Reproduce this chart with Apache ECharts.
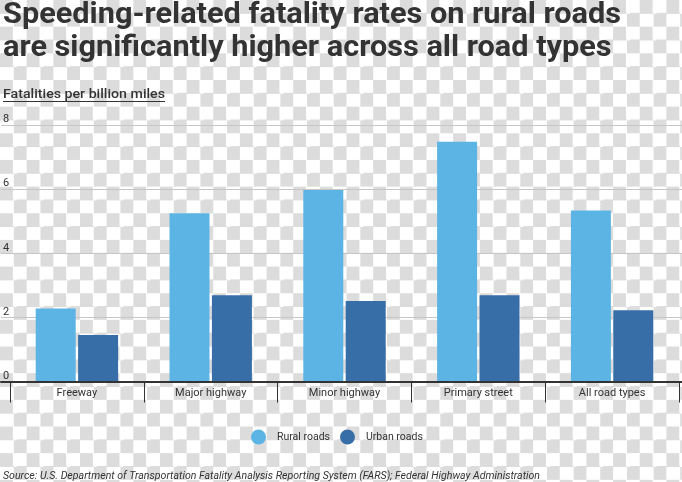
<!DOCTYPE html>
<html>
<head>
<meta charset="utf-8">
<script src="https://cdn.jsdelivr.net/npm/echarts@6/dist/echarts.min.js"></script>
<style>
  html, body { margin: 0; padding: 0; }
  body {
    width: 682px; height: 482px; overflow: hidden;
    background: repeating-conic-gradient(#fff 0 25%, #dcdcdc 0 50%) 0 0 / 26.667px 26.667px;
  }
  #chart { width: 682px; height: 482px; }
</style>
</head>
<body>
<div id="chart"></div>
<script>
const categories = ['Freeway', 'Major highway', 'Minor highway', 'Primary street', 'All road types'];
const seriesNames = ['Rural roads', 'Urban roads'];
const ruralValues = [2.28, 5.25, 5.97, 7.48, 5.33];
const urbanValues = [1.45, 2.69, 2.51, 2.69, 2.22];
const yMin = 0, yMax = 8, yInterval = 2;

const titleLines = ['Speeding-related fatality rates on rural roads', 'are significantly higher across all road types'];
const subtitleText = 'Fatalities per billion miles';
const sourceText = 'Source: U.S. Department of Transportation Fatality Analysis Reporting System (FARS); Federal Highway Administration';

const ctx = document.createElement('canvas').getContext('2d');
function measure(font, text) { ctx.font = font; return ctx.measureText(text).width; }

const titleFont = 'bold 29px Roboto';
const subFont = '500 12px Roboto';
const srcFont = 'italic 11px Roboto';
const titleScale = 618 / measure(titleFont, titleLines[0]);
const subScale = 162 / measure(subFont, subtitleText);
const srcScale = 537 / measure(srcFont, sourceText);

const chart = echarts.init(document.getElementById('chart'), null, { renderer: 'canvas' });
const gridTop = 125, gridBottom = 100.5;

chart.setOption({
  backgroundColor: 'transparent',
  animation: false,
  textStyle: { fontFamily: 'Roboto' },
  grid: [
    { left: 0, right: 0, top: gridTop, bottom: gridBottom },
    { left: 10, right: 3, top: gridTop, bottom: gridBottom }
  ],
  xAxis: [
    {
      gridIndex: 0, type: 'category', data: [''], z: 5,
      axisLine: { show: true, lineStyle: { color: '#333', width: 2 } },
      axisTick: { show: false }, axisLabel: { show: false }, splitLine: { show: false }
    },
    {
      gridIndex: 1, type: 'category', data: categories,
      axisLine: { show: false },
      axisTick: { show: true, length: 21, lineStyle: { color: '#333', width: 1 } },
      axisLabel: { show: true, fontSize: 11, color: '#333', margin: 6, fontFamily: 'Roboto' },
      splitLine: { show: false }
    }
  ],
  yAxis: [
    {
      gridIndex: 0, type: 'value', min: yMin, max: yMax, interval: yInterval,
      axisLine: { show: false }, axisTick: { show: false },
      axisLabel: { inside: true, margin: 2, verticalAlign: 'bottom', fontSize: 11, color: '#333', fontFamily: 'Roboto' },
      splitLine: { show: true, lineStyle: { color: '#c6c6c6', width: 1 } }
    },
    {
      gridIndex: 1, type: 'value', min: yMin, max: yMax, interval: yInterval, show: false,
      splitLine: { show: false }
    }
  ],
  legend: {
    data: seriesNames,
    left: 251, top: 429.5, padding: 0,
    icon: 'circle', itemWidth: 15, itemHeight: 15, itemGap: 10,
    textStyle: { fontSize: 10.5, color: '#333', fontFamily: 'Roboto', padding: [0, 0, 0, 6] }
  },
  series: [
    {
      name: seriesNames[0], type: 'bar', xAxisIndex: 1, yAxisIndex: 1,
      data: ruralValues, barWidth: 40, barGap: '6%',
      itemStyle: { color: '#5cb4e4' }
    },
    {
      name: seriesNames[1], type: 'bar', xAxisIndex: 1, yAxisIndex: 1,
      data: urbanValues, barWidth: 40, barGap: '6%',
      itemStyle: { color: '#376ea8' }
    }
  ],
  graphic: [
    { type: 'text', x: 3, y: 1, scaleX: titleScale, style: { text: titleLines[0], font: titleFont, fill: '#333', verticalAlign: 'top' } },
    { type: 'text', x: 3, y: 34, scaleX: titleScale, style: { text: titleLines[1], font: titleFont, fill: '#333', verticalAlign: 'top' } },
    { type: 'text', x: 3, y: 89, scaleX: subScale, style: { text: subtitleText, font: subFont, fill: '#333', verticalAlign: 'top' } },
    { type: 'line', shape: { x1: 3, y1: 101.5, x2: 165, y2: 101.5 }, style: { stroke: '#333', lineWidth: 1 } },
    { type: 'text', x: 3, y: 470.5, scaleX: srcScale, style: { text: sourceText, font: srcFont, fill: '#333', verticalAlign: 'top' } }
  ]
});
</script>
</body>
</html>
